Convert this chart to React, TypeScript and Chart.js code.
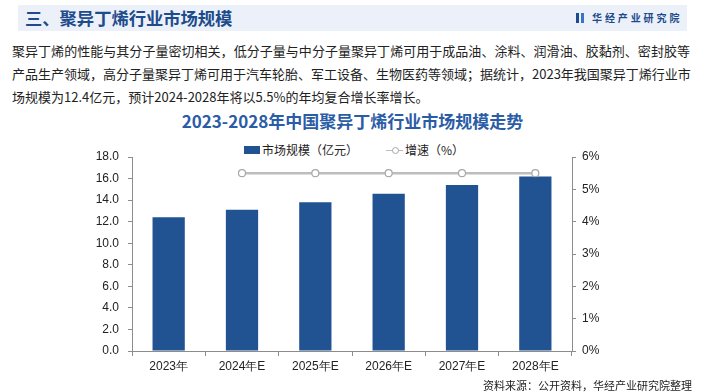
import React, { useEffect, useRef } from "react";
import { Chart, registerables } from "chart.js";

Chart.register(...registerables);

const categories = ["2023年", "2024年E", "2025年E", "2026年E", "2027年E", "2028年E"];
const marketSize = [12.4, 13.1, 13.8, 14.6, 15.4, 16.2];
const growthRate = [null, 5.5, 5.5, 5.5, 5.5, 5.5];
const seriesNames = ["市场规模（亿元）", "增速（%）"];

const headingText = "三、聚异丁烯行业市场规模";
const chartTitle = "2023-2028年中国聚异丁烯行业市场规模走势";
const paragraphLines = [
  "聚异丁烯的性能与其分子量密切相关，低分子量与中分子量聚异丁烯可用于成品油、涂料、润滑油、胶黏剂、密封胶等",
  "产品生产领域，高分子量聚异丁烯可用于汽车轮胎、军工设备、生物医药等领域；据统计，2023年我国聚异丁烯行业市",
  "场规模为12.4亿元，预计2024-2028年将以5.5%的年均复合增长率增长。",
];
const sourceText = "资料来源：公开资料，华经产业研究院整理";
const brandText = "华经产业研究院";

const BAR = "#215393";
const AXIS = "#8c8c8c";
const CJK = '"Noto Sans CJK SC", "Noto Sans", sans-serif';
const LATIN = '"Liberation Sans", Arial, sans-serif';

export default function App() {
  const ref = useRef<HTMLCanvasElement | null>(null);

  useEffect(() => {
    document.body.style.margin = "0";
    const ctx = ref.current!;
    const chart = new Chart(ctx, {
      type: "bar",
      data: {
        labels: categories,
        datasets: [
          {
            type: "line",
            label: seriesNames[1],
            data: growthRate as any,
            yAxisID: "y1",
            borderColor: "#bdbdbd",
            borderWidth: 2.5,
            pointRadius: 3.5,
            pointBackgroundColor: "#ffffff",
            pointBorderColor: "#a8a8a8",
            pointBorderWidth: 1.2,
            order: 0,
          },
          {
            type: "bar",
            label: seriesNames[0],
            data: marketSize,
            yAxisID: "y",
            backgroundColor: BAR,
            categoryPercentage: 1,
            barPercentage: 0.44,
            order: 1,
          },
        ],
      },
      options: {
        responsive: false,
        animation: false,
        layout: { padding: { top: 17, left: 0, right: 0, bottom: 0 } },
        plugins: { legend: { display: false }, tooltip: { enabled: false } },
        scales: {
          x: {
            grid: { drawOnChartArea: false, color: AXIS, tickLength: 5, offset: true },
            border: { color: AXIS, width: 1 },
            ticks: { color: "#222", font: { family: LATIN, size: 12 }, padding: 3, maxRotation: 0 },
            afterFit: (s: any) => { s.height = 29; },
          },
          y: {
            position: "left",
            min: 0,
            max: 18,
            ticks: {
              stepSize: 2,
              color: "#222",
              font: { family: LATIN, size: 12 },
              padding: 9,
              callback: (v: any) => Number(v).toFixed(1),
            },
            grid: { drawOnChartArea: false, color: AXIS, tickLength: 4 },
            border: { color: AXIS, width: 1 },
            afterFit: (s: any) => { s.width = 132; },
          },
          y1: {
            position: "right",
            min: 0,
            max: 6,
            ticks: {
              stepSize: 1,
              color: "#222",
              font: { family: LATIN, size: 12 },
              padding: 6,
              callback: (v: any) => v + "%",
            },
            grid: { drawOnChartArea: false, color: AXIS, tickLength: 4 },
            border: { color: AXIS, width: 1 },
            afterFit: (s: any) => { s.width = 133; },
          },
        },
      },
    });
    return () => chart.destroy();
  }, []);

  return (
    <div style={{ position: "fixed", left: 0, top: 0, width: 705, height: 392, background: "#fff", overflow: "hidden", fontFamily: CJK }}>
      <div style={{ position: "absolute", left: 18, top: 5, width: 669, height: 26, background: "#ecf1f9" }} />
      <div style={{ position: "absolute", left: 25, top: 5, height: 26, lineHeight: "26px", fontSize: 17.3, fontWeight: 700, color: "#1d4b8c", whiteSpace: "nowrap" }}>
        {headingText}
      </div>
      <div style={{ position: "absolute", left: 576, top: 13, width: 3, height: 10, background: "#1d4b8c" }} />
      <div style={{ position: "absolute", left: 581, top: 13, width: 3, height: 10, background: "#3b74c4" }} />
      <div style={{ position: "absolute", left: 592, top: 9, height: 18, lineHeight: "18px", fontSize: 10, fontWeight: 700, color: "#1d4b8c", letterSpacing: 2.9, whiteSpace: "nowrap" }}>
        {brandText}
      </div>
      {paragraphLines.map((t, i) => (
        <div
          key={i}
          style={{
            position: "absolute",
            left: 12,
            top: 40 + i * 23,
            width: i < 2 ? 678 : undefined,
            height: 22,
            lineHeight: "22px",
            fontSize: 13,
            color: "#222",
            whiteSpace: "nowrap",
            textAlign: i < 2 ? "justify" : "left",
            textAlignLast: i < 2 ? "justify" : "left",
          } as any}
        >
          {t}
        </div>
      ))}
      <div style={{ position: "absolute", left: 0, width: 705, top: 109, height: 24, lineHeight: "24px", textAlign: "center", fontSize: 17, fontWeight: 700, color: "#2b5ca6" }}>
        {chartTitle}
      </div>
      <div style={{ position: "absolute", left: 244, top: 146, width: 16, height: 8, background: BAR }} />
      <div style={{ position: "absolute", left: 262, top: 142, lineHeight: "16px", fontSize: 12, color: "#222", whiteSpace: "nowrap" }}>{seriesNames[0]}</div>
      <div style={{ position: "absolute", left: 386, top: 149.5, width: 17, height: 1.5, background: "#bdbdbd" }} />
      <div style={{ position: "absolute", left: 391.5, top: 147, width: 5, height: 5, borderRadius: "50%", border: "1px solid #a8a8a8", background: "#fff" }} />
      <div style={{ position: "absolute", left: 405, top: 142, lineHeight: "16px", fontSize: 12, color: "#222", whiteSpace: "nowrap" }}>{seriesNames[1]}</div>
      <canvas ref={ref} width={705} height={240} style={{ position: "absolute", left: 0, top: 140, width: 705, height: 240 }} />
      <div style={{ position: "absolute", right: 13, top: 377, lineHeight: "16px", fontSize: 11, color: "#222", whiteSpace: "nowrap" }}>{sourceText}</div>
    </div>
  );
}
